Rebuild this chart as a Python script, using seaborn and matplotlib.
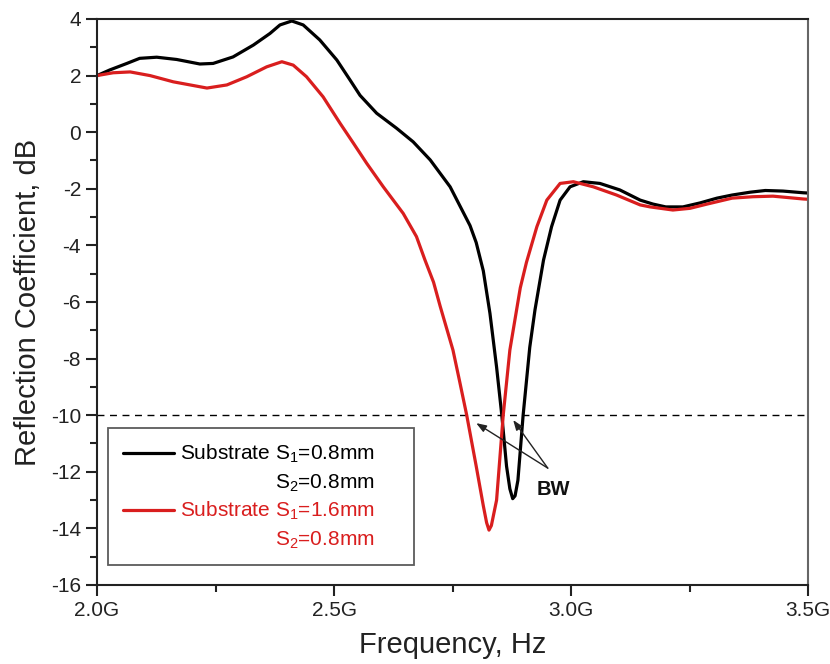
import matplotlib
matplotlib.use("Agg")
import matplotlib.pyplot as plt
import seaborn as sns
import pandas as pd
import numpy as np
from matplotlib.ticker import MultipleLocator, FuncFormatter
from matplotlib.lines import Line2D
from matplotlib.legend_handler import HandlerLine2D

# ---- data (frequency in GHz, reflection coefficient in dB) ----
freq_a = [2.000, 2.027, 2.063, 2.090, 2.126, 2.168, 2.217, 2.245, 2.287, 2.330,
          2.365, 2.386, 2.411, 2.435, 2.470, 2.506, 2.534, 2.555, 2.590, 2.632,
          2.667, 2.703, 2.745, 2.787, 2.800, 2.815, 2.829, 2.843, 2.854, 2.864,
          2.871, 2.877, 2.882, 2.888, 2.899, 2.913, 2.924, 2.942, 2.959, 2.977,
          2.998, 3.026, 3.061, 3.103, 3.146, 3.173, 3.200, 3.236, 3.272, 3.308,
          3.340, 3.378, 3.410, 3.447, 3.490, 3.500]
s11_a = [2.00, 2.20, 2.43, 2.61, 2.65, 2.57, 2.41, 2.43, 2.66, 3.08,
         3.49, 3.79, 3.93, 3.79, 3.26, 2.55, 1.84, 1.30, 0.67, 0.14,
         -0.34, -0.98, -1.93, -3.30, -3.90, -4.90, -6.40, -8.30, -10.00, -11.80,
         -12.60, -12.95, -12.85, -12.30, -10.00, -7.60, -6.28, -4.52, -3.34, -2.40,
         -1.93, -1.75, -1.81, -2.04, -2.40, -2.54, -2.64, -2.64, -2.50, -2.33,
         -2.22, -2.12, -2.06, -2.08, -2.14, -2.15]

freq_b = [2.000, 2.034, 2.070, 2.112, 2.161, 2.232, 2.274, 2.316, 2.358, 2.390,
          2.414, 2.442, 2.477, 2.513, 2.541, 2.569, 2.604, 2.646, 2.674, 2.692,
          2.710, 2.724, 2.751, 2.765, 2.780, 2.800, 2.815, 2.822, 2.827, 2.832,
          2.843, 2.857, 2.871, 2.882, 2.893, 2.906, 2.928, 2.949, 2.977, 3.005,
          3.047, 3.096, 3.146, 3.167, 3.215, 3.251, 3.287, 3.340, 3.384, 3.426,
          3.490, 3.500]
s11_b = [2.00, 2.10, 2.13, 2.00, 1.78, 1.56, 1.67, 1.96, 2.31, 2.49,
         2.37, 1.96, 1.25, 0.31, -0.39, -1.10, -1.93, -2.87, -3.69, -4.52,
         -5.30, -6.15, -7.70, -8.80, -10.00, -11.80, -13.20, -13.80, -14.06, -13.90,
         -13.00, -10.00, -7.70, -6.60, -5.50, -4.60, -3.34, -2.40, -1.81, -1.75,
         -1.93, -2.22, -2.57, -2.64, -2.75, -2.69, -2.54, -2.33, -2.28, -2.26,
         -2.36, -2.37]

label_a = "Substrate S$_1$=0.8mm\nS$_2$=0.8mm"
label_b = "Substrate S$_1$=1.6mm\nS$_2$=0.8mm"
bw_level = -10
bw_tips = [(2.80, -10.28), (2.878, -10.17)]
bw_tail = (2.951, -11.87)

black = "#000000"
red = "#d91e1e"

df = pd.concat([
    pd.DataFrame({"freq": freq_a, "s11": s11_a, "series": label_a}),
    pd.DataFrame({"freq": freq_b, "s11": s11_b, "series": label_b}),
], ignore_index=True)

sns.set_style("ticks")
plt.rcParams["font.family"] = ["Liberation Sans", "DejaVu Sans"]
plt.rcParams["mathtext.fontset"] = "custom"
plt.rcParams["mathtext.rm"] = "Liberation Sans"
plt.rcParams["mathtext.it"] = "Liberation Sans:italic"
plt.rcParams["mathtext.bf"] = "Liberation Sans:bold"

fig = plt.figure(figsize=(8.3, 6.64), dpi=100)
ax = fig.add_axes([97/830, 1 - 585/664, 711/830, 566/664])

sns.lineplot(data=df, x="freq", y="s11", hue="series", palette=[black, red],
             linewidth=2.3, ax=ax, sort=False, legend=False, estimator=None)
for ln in ax.get_lines():
    ln.set_solid_joinstyle("round")
    ln.set_solid_capstyle("round")

ax.axhline(bw_level, color="black", lw=1.0, ls=(0, (5, 4)), zorder=1)

ax.set_xlim(2.0, 3.5)
ax.set_ylim(-16, 4)
ax.xaxis.set_major_locator(MultipleLocator(0.5))
ax.xaxis.set_minor_locator(MultipleLocator(0.25))
ax.yaxis.set_major_locator(MultipleLocator(2))
ax.yaxis.set_minor_locator(MultipleLocator(1))
ax.xaxis.set_major_formatter(FuncFormatter(lambda v, p: f"{v:.1f}G"))
ax.yaxis.set_major_formatter(FuncFormatter(lambda v, p: f"{v:.0f}"))
ax.tick_params(which="major", direction="out", length=8, width=1.5, labelsize=15,
               colors="#222222", labelcolor="#222222")
ax.tick_params(which="minor", direction="out", length=5, width=1.5, colors="#222222")
ax.tick_params(which="both", top=False, right=False, labeltop=False, labelright=False,
               bottom=True, left=True)
for s in ax.spines.values():
    s.set_linewidth(1.5)
    s.set_color("#222222")
ax.spines["right"].set_color("#666666")

ax.set_xlabel("Frequency, Hz", fontsize=21, color="#222222", labelpad=8)
ax.set_ylabel("Reflection Coefficient, dB", fontsize=21, color="#222222", labelpad=6)

# BW annotation
for tip in bw_tips:
    ax.annotate("", xy=tip, xytext=bw_tail,
                arrowprops=dict(arrowstyle="-|>,head_length=0.6,head_width=0.22",
                                color="#222222", lw=1.0, shrinkA=0, shrinkB=0))
ax.text(2.962, -12.64, "BW", fontsize=14.5, fontweight="bold", ha="center", va="center",
        color="#111111")


class FirstLineHandler(HandlerLine2D):
    def create_artists(self, legend, orig_handle, xdescent, ydescent, width, height,
                       fontsize, trans):
        arts = super().create_artists(legend, orig_handle, xdescent, ydescent, width,
                                      height, fontsize, trans)
        for a in arts:
            a.set_ydata(np.asarray(a.get_ydata(), dtype=float) + 0.72 * fontsize)
        return arts


handles = [Line2D([], [], color=black, lw=2.3), Line2D([], [], color=red, lw=2.3)]
leg = ax.legend(handles, [label_a, label_b], loc="upper left",
                bbox_to_anchor=(0.0155, 0.277 - 0.3, 0.430, 0.3), mode="expand",
                borderaxespad=0, fontsize=15,
                handlelength=2.45, handletextpad=0.3, labelspacing=0.3,
                borderpad=0.7, frameon=True, fancybox=False, edgecolor="#333333",
                labelcolor="linecolor",
                handler_map={Line2D: FirstLineHandler()})
leg.get_frame().set_linewidth(1.3)
for t in leg.get_texts():
    t.set_multialignment("right")
    t.set_linespacing(1.45)

fig.savefig("out.png", dpi=100)
